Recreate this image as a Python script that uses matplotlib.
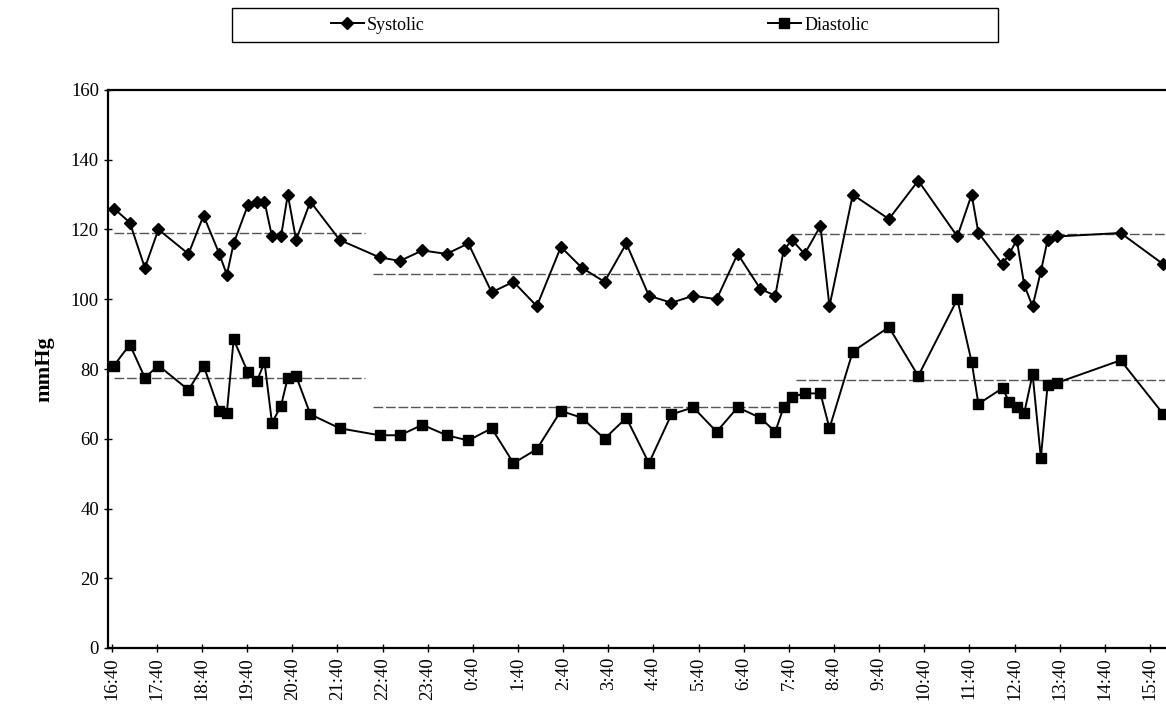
import matplotlib
matplotlib.use("Agg")
from matplotlib import pyplot as plt
from matplotlib.patches import Rectangle
import matplotlib.dates as mdates
from matplotlib.ticker import FuncFormatter
import pandas as pd

# reading times (clock), night wraps past midnight
times = ["16:43", "17:04", "17:24", "17:42", "18:22", "18:42", "19:03", "19:13", "19:22", "19:41",
         "19:53", "20:03", "20:13", "20:25", "20:34", "20:45", "21:04", "21:43", "22:36", "23:03",
         "23:33", "0:05", "0:34", "1:05", "1:34", "2:05", "2:37", "3:05", "3:35", "4:04",
         "4:34", "5:04", "5:33", "6:04", "6:32", "7:02", "7:22", "7:33", "7:44", "8:01",
         "8:22", "8:34", "9:05", "9:53", "10:32", "11:24", "11:43", "11:52", "12:24", "12:33",
         "12:43", "12:53", "13:04", "13:15", "13:24", "13:36", "15:01", "15:58"]

systolic = [126, 122, 109, 120, 113, 124, 113, 107, 116, 127,
            128, 128, 118, 118, 130, 117, 128, 117, 112, 111,
            114, 113, 116, 102, 105, 98, 115, 109, 105, 116,
            101, 99, 101, 100, 113, 103, 101, 114, 117, 113,
            121, 98, 130, 123, 134, 118, 130, 119, 110, 113,
            117, 104, 98, 108, 117, 118, 119, 110]

diastolic = [81, 87, 77.5, 81, 74, 81, 68, 67.5, 88.5, 79,
             76.5, 82, 64.5, 69.5, 77.5, 78, 67, 63, 61, 61,
             64, 61, 59.5, 63, 53, 57, 68, 66, 60, 66,
             53, 67, 69, 62, 69, 66, 62, 69, 72, 73,
             73, 63, 85, 92, 78, 100, 82, 70, 74.5, 70.5,
             69, 67.5, 78.5, 54.5, 75.5, 76, 82.5, 67]

# period means: (start, end, value)
systolic_means = [("16:43", "22:16", 118.9), ("22:27", "7:34", 107.2), ("7:44", "16:00", 118.7)]
diastolic_means = [("16:43", "22:16", 77.5), ("22:27", "7:25", 69.2), ("7:50", "16:00", 76.8)]

tick_labels = ["16:40", "17:40", "18:40", "19:40", "20:40", "21:40", "22:40", "23:40",
               "0:40", "1:40", "2:40", "3:40", "4:40", "5:40", "6:40", "7:40", "8:40",
               "9:40", "10:40", "11:40", "12:40", "13:40", "14:40", "15:40"]


def to_dt(s):
    t = pd.Timestamp("2000-01-01 " + s)
    # anything before 16:30 belongs to the next day
    if t.hour * 60 + t.minute < 16 * 60 + 30:
        t += pd.Timedelta(days=1)
    return t


x = [to_dt(s) for s in times]
ticks = [to_dt(s) for s in tick_labels]

plt.rcParams['font.family'] = ['Liberation Serif', 'DejaVu Serif']

fig = plt.figure(figsize=(11.66, 7.13), dpi=100)
ax = fig.add_axes([108 / 1166, 65 / 713, 1057 / 1166, 558 / 713])

for s, e, v in systolic_means + diastolic_means:
    ax.plot([to_dt(s), to_dt(e)], [v, v], color='#555555', lw=1.0,
            dashes=(7, 2), zorder=1)

ax.plot(x, systolic, color='black', lw=1.4, marker='D', ms=6.3, label='Systolic', zorder=3)
ax.plot(x, diastolic, color='black', lw=1.4, marker='s', ms=7, label='Diastolic', zorder=3)

ax.set_ylim(0, 160)
ax.set_yticks(range(0, 161, 20))
ax.set_xlim(to_dt("16:35"), to_dt("16:00"))
ax.set_xticks(ticks)
ax.xaxis.set_major_formatter(FuncFormatter(
    lambda v, p: "%d:%02d" % (mdates.num2date(v).hour, mdates.num2date(v).minute)))
ax.tick_params(axis='x', labelrotation=90, labelsize=13.5, direction='inout', length=6, width=1)
ax.tick_params(axis='y', labelsize=13.5, direction='inout', length=6, width=1)

for sp in ['left', 'bottom', 'top']:
    ax.spines[sp].set_linewidth(1.6)
ax.spines['right'].set_visible(False)

ax.set_ylabel('mmHg', fontsize=16, fontweight='bold', labelpad=12)

# legend box
fig.patches.append(Rectangle((232 / 1166, 1 - 42 / 713), 766 / 1166, 34 / 713,
                             transform=fig.transFigure, fill=False, edgecolor='black', lw=1.0))
fig.legend(loc='center left', bbox_to_anchor=(322 / 1166, 1 - 25 / 713), ncol=2,
           frameon=False, fontsize=13, handlelength=1.8, handletextpad=0.2,
           borderpad=0, columnspacing=19)

fig.savefig('out.png', dpi=100)
